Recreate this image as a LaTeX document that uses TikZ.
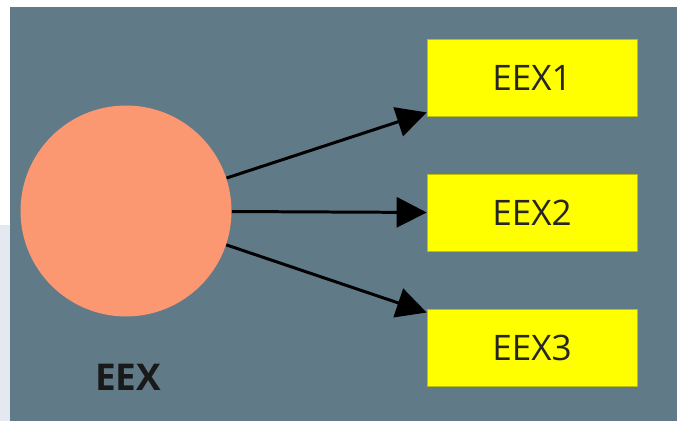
\documentclass[tikz,border=0pt]{standalone}
\usepackage{fontspec}
\setmainfont{Open Sans}
\usetikzlibrary{arrows.meta,positioning}
\begin{document}
\begin{tikzpicture}[x=0.02cm,y=-0.02cm,line join=round]
			\definecolor{slategrey}{RGB}{96,122,135}
			\definecolor{salmonpink}{RGB}{252,152,113}
			\definecolor{pureyellow}{RGB}{255,255,0}
			\definecolor{paleblue}{RGB}{228,232,240}
			\def\bw{4.2cm} \def\bh{1.54cm}
			
			\tikzset{
				src/.style={circle,fill=salmonpink,minimum size=4.22cm,inner sep=0pt},
				dst/.style={rectangle,fill=pureyellow,draw=pureyellow!75!black,line width=.4pt,
					minimum width=\bw,minimum height=\bh,inner sep=0pt,
					font=\fontsize{20}{24}\selectfont,text=black!85},
				link/.style={line width=1.7pt,-{Triangle[length=.6cm,width=.6cm]}}
			}
			
			% background
			\fill[white] (0,0) rectangle (677,421);
			\fill[paleblue] (0,225) rectangle (10,421);
			\fill[slategrey] (10,7) rectangle (677,421);
			\useasboundingbox (0,0) rectangle (677,421);
			
			\node[src] (eex) at (126,211) {};
			\node[font=\fontsize{21}{25}\selectfont\bfseries,text=black!90] (eexlbl) at (128,377) {EEX};
			
			\node[dst] (eex1) at (532,78) {EEX1};
			\node[dst] (eex2) at (532,213) {EEX2};
			\node[dst] (eex3) at (532,348) {EEX3};
			
			\foreach \n in {1,2,3}
				\draw[link] (eex) -- (eex\n);
		\end{tikzpicture}
\end{document}
